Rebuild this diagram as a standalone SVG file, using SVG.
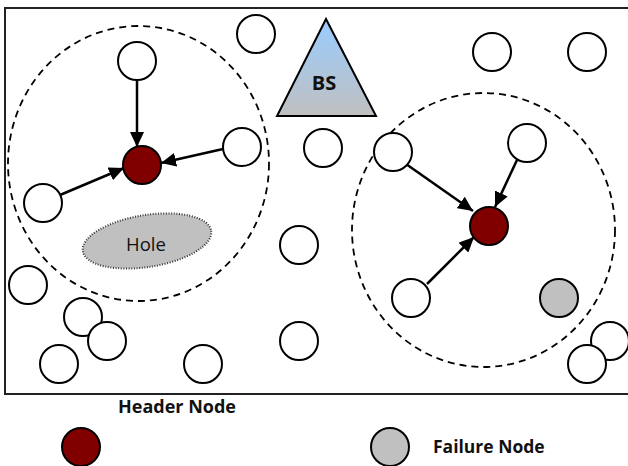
<svg xmlns="http://www.w3.org/2000/svg" width="628" height="466" viewBox="0 0 628 466">
<style>
.n{fill:#fff;stroke:#000;stroke-width:2}
.h{fill:#800000;stroke:#000;stroke-width:2}
.f{fill:#c0c0c0;stroke:#000;stroke-width:2}
.rng{fill:none;stroke:#000;stroke-width:1.8;stroke-dasharray:7 5}
.c{stroke:#000;stroke-width:2.5;fill:none;marker-end:url(#ah)}
.b{font-family:"Open Sans","Liberation Sans",sans-serif;font-weight:bold;fill:#111}
</style>
<defs>
<marker id="ah" markerUnits="userSpaceOnUse" markerWidth="16" markerHeight="14" refX="15" refY="7" orient="auto">
<path d="M0,0 L15,7 L0,14 Z" fill="#000"/>
</marker>
<linearGradient id="bsg" x1="0" y1="0" x2="0" y2="1">
<stop offset="0" stop-color="#99ccff"/>
<stop offset="1" stop-color="#c0c0c0"/>
</linearGradient>
</defs>
<rect x="5" y="8" width="640" height="386" fill="#fff" stroke="#222" stroke-width="2"/>
<g id="ranges">
<ellipse class="rng" cx="138.5" cy="163.5" rx="130.5" ry="137.5"/>
<ellipse class="rng" cx="483.5" cy="230" rx="131.5" ry="137"/>
</g>
<g id="hole">
<ellipse cx="147" cy="241" rx="65" ry="26" transform="rotate(-9 147 241)" fill="#c0c0c0" stroke="#333" stroke-width="2" stroke-dasharray="1 1.6"/>
<text x="146" y="251" text-anchor="middle" font-family="'Open Sans','Liberation Sans',sans-serif" font-size="18.5" fill="#111">Hole</text>
</g>
<g id="bs">
<polygon points="326,19 277,116 376,116" fill="url(#bsg)" stroke="#000" stroke-width="2"/>
<text class="b" x="324" y="90" text-anchor="middle" font-size="20">BS</text>
</g>
<g id="connectors">
<line class="c" x1="137" y1="80" x2="137" y2="147"/>
<line class="c" x1="223" y1="149" x2="161" y2="163"/>
<line class="c" x1="60" y1="195" x2="124" y2="168"/>
<line class="c" x1="406" y1="164" x2="473" y2="211"/>
<line class="c" x1="517" y1="160" x2="495" y2="207"/>
<line class="c" x1="427" y1="284" x2="474" y2="237"/>
</g>
<g id="n1"><circle class="n" cx="137" cy="61" r="19"/></g>
<g id="n2"><circle class="n" cx="256" cy="34" r="19"/></g>
<g id="n3"><circle class="n" cx="242" cy="147" r="19"/></g>
<g id="n4"><circle class="n" cx="43" cy="203" r="19"/></g>
<g id="h1"><circle class="h" cx="142" cy="165" r="19"/></g>
<g id="n5"><circle class="n" cx="323" cy="148" r="19"/></g>
<g id="n6"><circle class="n" cx="492" cy="52" r="19"/></g>
<g id="n7"><circle class="n" cx="587" cy="52" r="19"/></g>
<g id="n8"><circle class="n" cx="393" cy="152" r="19"/></g>
<g id="n9"><circle class="n" cx="527" cy="143" r="19"/></g>
<g id="h2"><circle class="h" cx="489" cy="226" r="19"/></g>
<g id="n10"><circle class="n" cx="411" cy="298" r="19"/></g>
<g id="f1"><circle class="f" cx="559" cy="298" r="19"/></g>
<g id="n11"><circle class="n" cx="299" cy="245" r="19"/></g>
<g id="n12"><circle class="n" cx="299" cy="341" r="19"/></g>
<g id="n13"><circle class="n" cx="28" cy="285" r="19"/></g>
<g id="n14"><circle class="n" cx="83" cy="317" r="19"/></g>
<g id="n15"><circle class="n" cx="107" cy="341" r="19"/></g>
<g id="n16"><circle class="n" cx="59" cy="364" r="19"/></g>
<g id="n17"><circle class="n" cx="203" cy="364" r="19"/></g>
<g id="n18"><circle class="n" cx="610" cy="341" r="19"/></g>
<g id="n19"><circle class="n" cx="587" cy="364" r="19"/></g>
<g id="legend-header">
<text class="b" x="177" y="413" text-anchor="middle" font-size="18">Header Node</text>
<circle class="h" cx="81" cy="447" r="19"/>
</g>
<g id="legend-failure">
<circle class="f" cx="390" cy="447" r="19"/>
<text class="b" x="433" y="453" font-size="17.5">Failure Node</text>
</g>
</svg>
